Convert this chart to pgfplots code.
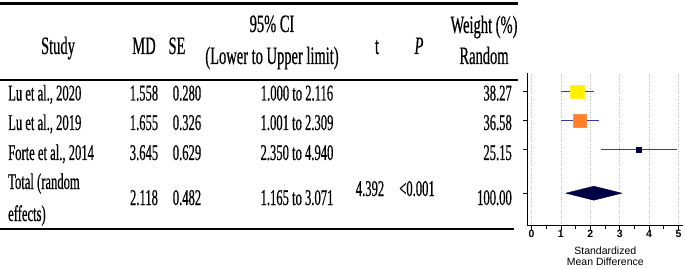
\documentclass[border=0pt]{standalone}
\usepackage{fontspec}
\usepackage{pgfplots}
\pgfplotsset{compat=1.18}
\setmainfont{Liberation Serif}
\newfontfamily\tabfont{Liberation Serif}[FakeStretch=0.56, FakeBold=0.5]
\newfontfamily\headfont{Liberation Serif}[FakeStretch=0.58, FakeBold=0.5]
\newfontfamily\plotfont{Liberation Sans}
\definecolor{ciblue}{HTML}{3838A8}
\definecolor{navy}{HTML}{000045}
\definecolor{sqyellow}{HTML}{FFF000}
\definecolor{sqorange}{HTML}{FF7F2A}

\begin{document}
\begin{tikzpicture}[x=1pt,y=1pt]
\path[use as bounding box] (0,0) rectangle (685,268);
% table rules
\draw[line width=2.8pt] (0,264.6) -- (518,264.6);
\draw[line width=2pt] (0,188) -- (518,188);
\draw[line width=2.6pt] (0,39) -- (514,39);
\begin{scope}[every node/.style={inner sep=0pt}, font=\headfont\fontsize{25}{28}\selectfont]
% header
\node[anchor=base] at (58,214) {Study};
\node[anchor=base] at (144,214) {MD};
\node[anchor=base] at (177,214) {SE};
\node[anchor=base] at (272,236) {95\% CI};
\node[anchor=base] at (272,204) {(Lower to Upper limit)};
\node[anchor=base] at (377,214) {t};
\node[anchor=base] at (419,214) {\itshape P};
\node[anchor=base] at (484,235) {Weight (\%)};
\node[anchor=base] at (484,204) {Random};
\end{scope}
\begin{scope}[every node/.style={inner sep=0pt}, font=\tabfont\fontsize{22.5}{25}\selectfont]
% row 1
\node[anchor=base west] at (8,167.5) {Lu et al., 2020};
\node[anchor=base] at (144,167.5) {1.558};
\node[anchor=base] at (187,167.5) {0.280};
\node[anchor=base] at (297,167.5) {1.000 to 2.116};
\node[anchor=base east] at (512,167.5) {38.27};
% row 2
\node[anchor=base west] at (8,138) {Lu et al., 2019};
\node[anchor=base] at (144,138) {1.655};
\node[anchor=base] at (187,138) {0.326};
\node[anchor=base] at (297,138) {1.001 to 2.309};
\node[anchor=base east] at (512,138) {36.58};
% row 3
\node[anchor=base west] at (8,108) {Forte et al., 2014};
\node[anchor=base] at (144,108) {3.645};
\node[anchor=base] at (187,108) {0.629};
\node[anchor=base] at (297,108) {2.350 to 4.940};
\node[anchor=base east] at (512,108) {25.15};
% total
\node[anchor=base west] at (8,79) {Total (random};
\node[anchor=base west] at (8,47) {effects)};
\node[anchor=base] at (144,63) {2.118};
\node[anchor=base] at (187,63) {0.482};
\node[anchor=base] at (297,63) {1.165 to 3.071};
\node[anchor=base] at (370,72) {4.392};
\node[anchor=base] at (417,72) {<0.001};
\node[anchor=base east] at (512,63) {100.00};
\end{scope}

\begin{axis}[
  at={(527.3pt,42.3pt)}, anchor=south west,
  scale only axis, width=156pt, height=152.4pt,
  xmin=-0.143, xmax=5.163, ymin=-5.621, ymax=-0.366,
  axis x line*=bottom, axis y line*=left,
  axis line style={line width=1.1pt, black},
  xtick={0,1,2,3,4,5}, minor x tick num=1,
  ytick={-1,-2,-3,-4.5}, yticklabels={},
  tick align=outside, major tick length=4pt, minor tick length=3pt,
  tick style={black, line width=0.8pt},
  xmajorgrids, major grid style={dotted, gray!50, line width=0.7pt},
  /pgf/number format/assume math mode=true,
  ticklabel style={font=\plotfont\bfseries\fontsize{10.5}{12}\selectfont},
  xticklabel style={yshift=3pt},
  xlabel={Standardized\\Mean Difference},
  xlabel style={align=center, font=\plotfont\fontsize{10.5}{10.7}\selectfont, yshift=-2.5pt},
  clip=false,
]
% confidence intervals
\addplot[ciblue, line width=1pt] coordinates {(1.000,-1) (2.116,-1)};
\addplot[ciblue, line width=1pt] coordinates {(1.001,-2) (2.309,-2)};
\addplot[ciblue, line width=1pt] coordinates {(2.350,-3) (4.940,-3)};
% point estimates
\addplot[only marks, mark=square*, mark size=6.65pt, mark options={fill=sqyellow, draw=sqyellow!80!white}] coordinates {(1.558,-1)};
\addplot[only marks, mark=square*, mark size=6.5pt, mark options={fill=sqorange, draw=sqorange!85!white}] coordinates {(1.655,-2)};
\addplot[only marks, mark=square*, mark size=2.3pt, mark options={fill=navy, draw=navy}] coordinates {(3.645,-3)};
% pooled diamond
\addplot[fill=navy, draw=navy] coordinates {(1.165,-4.5) (2.118,-4.259) (3.071,-4.5) (2.118,-4.741)} -- cycle;
\end{axis}
\end{tikzpicture}
\end{document}
